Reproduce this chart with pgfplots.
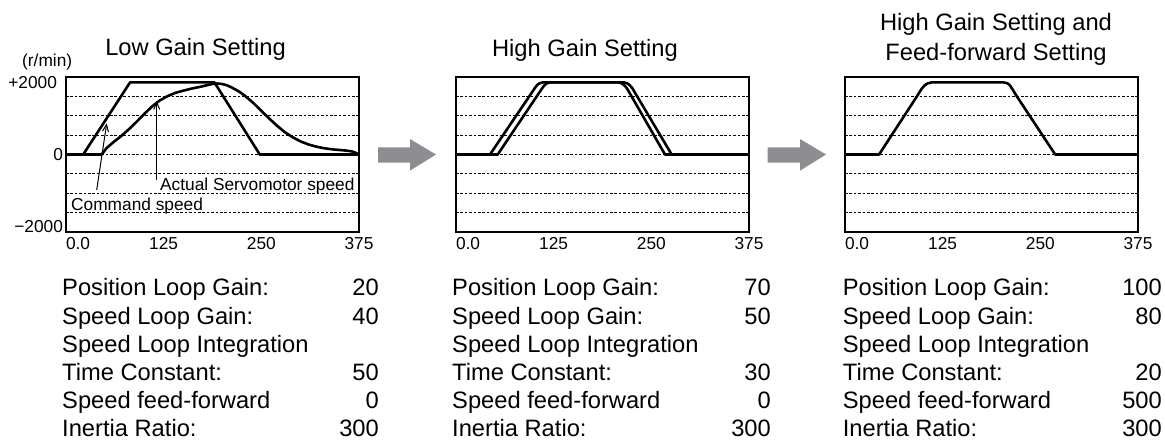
\documentclass[border=0pt]{standalone}
\usepackage{fontspec}
\setmainfont{Liberation Sans}
\usepackage{pgfplots}
\pgfplotsset{compat=1.18}
\usetikzlibrary{arrows.meta}
\definecolor{arrowgray}{RGB}{140,142,145}
\newcommand{\bigfnt}{\fontsize{23.7}{30}\selectfont}
\newcommand{\tickfnt}{\fontsize{17.3}{20}\selectfont}
\tikzset{curve/.style={black, line width=2.6pt, line join=round, mark=none}}
\pgfplotsset{panel/.style={
  scale only axis, width=293pt, height=155pt, anchor=south west,
  xmin=0, xmax=375, ymin=-2150, ymax=2150,
  axis line style={line width=1.2pt},
  major tick length=0pt, minor tick length=0pt,
  xtick={0,125,250,375},
  xticklabels={\makebox[0pt][l]{0.0},125,250,375},
  xticklabel style={yshift=-1.5pt},
  ticklabel style={font=\tickfnt},
  ytick={-2000,0,2000},
  minor ytick={-1612.5,-1075,-537.5,0,537.5,1075,1612.5},
  yminorgrids=true,
  minor grid style={black, line width=0.8pt, dash pattern=on 2.6pt off 1.8pt},
}}
\newcommand{\paramtable}[7]{%
  \begin{scope}[every node/.style={inner sep=0pt, font=\bigfnt}]
  \node[anchor=base west] at (#1pt,148pt) {Position Loop Gain:};
  \node[anchor=base east] at (#2pt,148pt) {#3};
  \node[anchor=base west] at (#1pt,119.8pt) {Speed Loop Gain:};
  \node[anchor=base east] at (#2pt,119.8pt) {#4};
  \node[anchor=base west] at (#1pt,91.6pt) {Speed Loop Integration};
  \node[anchor=base west] at (#1pt,63.4pt) {Time Constant:};
  \node[anchor=base east] at (#2pt,63.4pt) {#5};
  \node[anchor=base west] at (#1pt,35.2pt) {Speed feed-forward};
  \node[anchor=base east] at (#2pt,35.2pt) {#6};
  \node[anchor=base west] at (#1pt,7pt) {Inertia Ratio:};
  \node[anchor=base east] at (#2pt,7pt) {#7};
  \end{scope}}
\begin{document}
\begin{tikzpicture}
\useasboundingbox (0,0) rectangle (1165pt,444pt);
% ---------------- Panel 1
\begin{axis}[panel, at={(66pt,212pt)},
  yticklabels={−2000,0,+2000\kern6pt},
  yticklabel style={xshift=0.5pt}]
\addplot[curve] coordinates {(0,0) (22,0) (82,2000) (190,2000) (248,0) (375,0)};
\addplot[curve] coordinates {(0,0) (45.7,0) (52,180) (60,330) (70,500) (80,690) (90,900)
 (100,1120) (110,1330) (120,1500) (130,1620) (140,1710) (150,1770) (160,1825)
 (170,1870) (180,1920) (188,1960) (194,1970) (200,1955) (206,1920) (212,1860)
 (218,1790) (224,1710) (230,1610) (240,1425) (250,1210) (260,1000) (270,800)
 (280,620) (290,480) (300,365) (310,280) (320,220) (330,175) (340,145) (350,125)
 (358,110) (365,90) (370,55) (375,0)};
\draw[line width=1pt, -{Straight Barb[length=7pt,width=6pt]}] (axis cs:39.3,-983) -- (axis cs:52.1,864);
\draw[line width=1pt, -{Straight Barb[length=7pt,width=6pt]}] (axis cs:116.1,-706) -- (axis cs:116.1,1480);
\node[anchor=base west, inner sep=0pt, font=\tickfnt] at (axis cs:120.3,-1003) {Actual Servomotor speed};
\node[anchor=base west, inner sep=0pt, font=\tickfnt] at (axis cs:6.4,-1557) {Command speed};
\end{axis}
% ---------------- Panel 2
\begin{axis}[panel, at={(456pt,212pt)}, yticklabels={{},{},{}}]
\addplot[curve] coordinates {(0,0) (43.5,0) (101,1845) (104,1930) (107,1975) (111,2000)
 (208,2000) (212,1975) (215,1930) (218.5,1845) (267.5,0) (375,0)};
\addplot[curve] coordinates {(0,0) (53.4,0) (110.5,1845) (113.5,1930) (116.5,1975) (120,2000)
 (215,2000) (219,1975) (222,1930) (225.5,1845) (276,0) (375,0)};
\end{axis}
% ---------------- Panel 3
\begin{axis}[panel, at={(845pt,212pt)}, yticklabels={{},{},{}}]
\addplot[curve] coordinates {(0,0) (43.6,0) (92,1611) (98,1820) (102,1920) (106,1975) (111,2000)
 (203,2000) (208,1975) (211,1920) (214,1820) (220,1611) (269,0) (375,0)};
\end{axis}
% ---------------- Titles
\node[anchor=base, inner sep=0pt, font=\bigfnt] at (195.5pt,388pt) {Low Gain Setting};
\node[anchor=base, inner sep=0pt, font=\bigfnt] at (585pt,387.5pt) {High Gain Setting};
\node[anchor=base, inner sep=0pt, font=\bigfnt] at (996pt,413pt) {High Gain Setting and};
\node[anchor=base, inner sep=0pt, font=\bigfnt] at (996pt,383pt) {Feed-forward Setting};
\node[anchor=base west, inner sep=0pt, font=\tickfnt] at (22pt,377.6pt) {(r/min)};
% ---------------- Gray arrows
\fill[arrowgray] (378pt,296.7pt) -- (410pt,296.7pt) -- (410pt,305pt) -- (436pt,289.5pt)
  -- (410pt,273.3pt) -- (410pt,281.3pt) -- (378pt,281.3pt) -- cycle;
\fill[arrowgray] (767.7pt,296.7pt) -- (800pt,296.7pt) -- (800pt,305pt) -- (826pt,289.5pt)
  -- (800pt,273.3pt) -- (800pt,281.3pt) -- (767.7pt,281.3pt) -- cycle;
% ---------------- Parameter tables
\paramtable{62}{379}{20}{40}{50}{0}{300}
\paramtable{452}{771}{70}{50}{30}{0}{300}
\paramtable{842.7}{1162}{100}{80}{20}{500}{300}
\end{tikzpicture}
\end{document}
